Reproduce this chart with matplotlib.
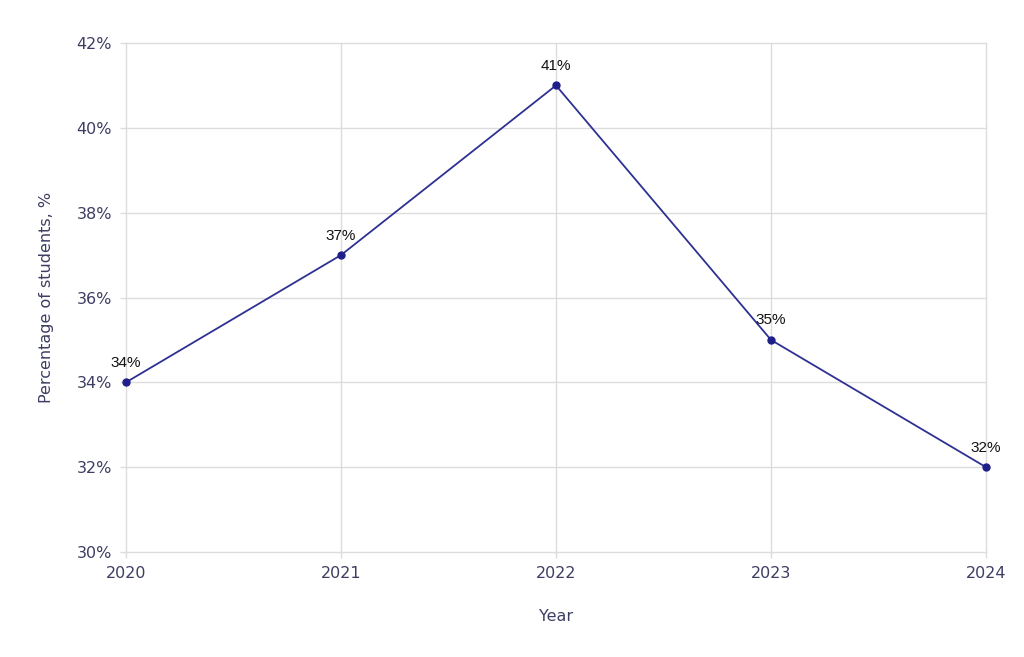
import matplotlib
matplotlib.use("Agg")
import matplotlib.pyplot as plt

years = [2020, 2021, 2022, 2023, 2024]
values = [34, 37, 41, 35, 32]
y_ticks = [30, 32, 34, 36, 38, 40, 42]

text_color = "#3d3d63"
grid_color = "#dcdcdc"
line_color = "#2e3192"

fig = plt.figure(figsize=(10.24, 6.57), dpi=100)
ax = fig.add_axes([126 / 1024, 1 - 552 / 657, 860 / 1024, 509 / 657])

ax.plot(years, values, color=line_color, linewidth=1.3, marker="o",
        markersize=5, markerfacecolor="#1f1f8a", markeredgecolor="#1f1f8a",
        clip_on=False, zorder=3)

for x, v in zip(years, values):
    ax.annotate(f"{v}%", (x, v), xytext=(0, 9), textcoords="offset points",
                ha="center", va="bottom", fontsize=11, color="#111111",
                family="Liberation Sans")

ax.set_xlim(2020, 2024)
ax.set_ylim(30, 42)
ax.set_xticks(years)
ax.set_xticklabels([str(y) for y in years])
ax.set_yticks(y_ticks)
ax.set_yticklabels([f"{t}%" for t in y_ticks])

ax.grid(True, color=grid_color, linewidth=1)
ax.set_axisbelow(True)
for ln in ax.get_xgridlines() + ax.get_ygridlines():
    ln.set_clip_on(False)
for s in ax.spines.values():
    s.set_visible(False)
ax.tick_params(axis="both", colors=grid_color, labelcolor=text_color,
               labelsize=11.5, length=4, width=1)
ax.tick_params(axis="y", pad=6)
ax.tick_params(axis="x", pad=6)

ax.set_xlabel("Year", color=text_color, fontsize=11.5, labelpad=20)
ax.set_ylabel("Percentage of students, %", color=text_color, fontsize=11.5,
              labelpad=16)

fig.savefig("out.png", dpi=100)
